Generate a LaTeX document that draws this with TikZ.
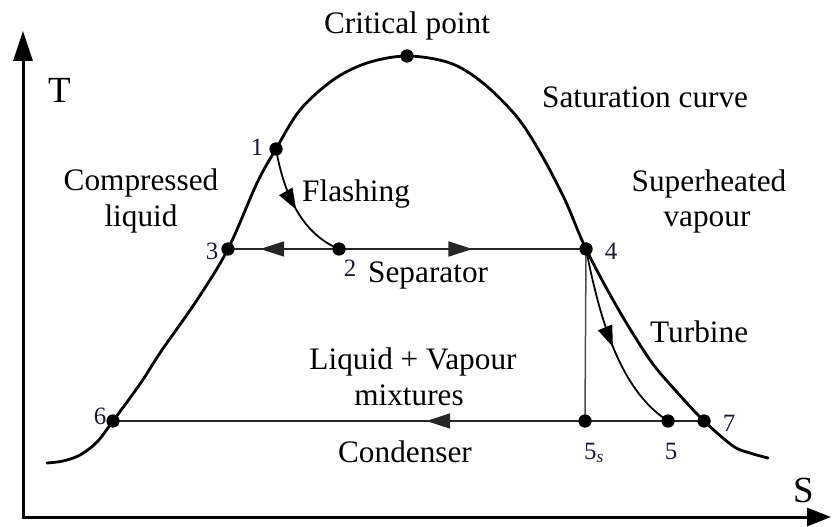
\documentclass[tikz,border=0pt]{standalone}
\usepackage{fontspec}
\setmainfont{Liberation Serif}
\usetikzlibrary{arrows.meta,decorations.markings}
\definecolor{labelc}{RGB}{25,25,55}
\begin{document}
\begin{tikzpicture}[x=1bp,y=-1bp,
  dot/.style={circle,fill=black,inner sep=0pt,minimum size=13bp},
  lbl/.style={font=\fontsize{25}{27}\selectfont,text=labelc,inner sep=0pt,anchor=base},
  txt/.style={font=\fontsize{31.4}{36}\selectfont,inner sep=0pt,anchor=base},
  axlbl/.style={font=\fontsize{37}{40}\selectfont,inner sep=0pt,anchor=base west},
  axisline/.style={line width=3bp,line join=miter},
  satline/.style={line width=2.8bp,line cap=round},
  hline/.style={line width=2bp,draw=black!85},
  vline/.style={line width=1.5bp,draw=black!70},
  flowline/.style={line width=1.8bp},
  midarrow/.style={postaction={decorate},decoration={markings,
     mark=at position #1 with {\arrow{Triangle[length=24bp,width=15bp]}}}},
  smallarrow/.style={postaction={decorate},decoration={markings,
     mark=at position #1 with {\arrow{Triangle[length=21bp,width=15bp]}}}},
]
\useasboundingbox (0,0) rectangle (832,527);

% axes
\coordinate (Ty) at (23,31);
\coordinate (O) at (23,517);
\coordinate (Sx) at (831,517);
\draw[axisline,{Triangle[length=30bp,width=19bp]}-{Triangle[length=24bp,width=18bp]}] (Ty) -- (O) -- (Sx);
\node[axlbl] (T) at (48,103) {T};
\node[axlbl] (S) at (793,502) {S};

% saturation curve
\draw[satline] plot[smooth,tension=0.55] coordinates {
 (47,463) (63,461) (80,455) (97,442) (113,421) (140,384) (162,350)
 (197,300) (228,249) (257,183) (276,149) (300,110) (333,80) (367,63)
 (407,56) (450,63) (483,83) (517,117) (541,154) (565,200) (586,249)
 (617,307) (650,360) (676,391) (704,421) (733,446) (750,453) (768,458)};

% state points
\node[dot] (cp) at (407,56) {};
\node[dot] (p1) at (276,149) {};
\node[dot] (p3) at (228,249) {};
\node[dot] (p2) at (339,249) {};
\node[dot] (p4) at (586,249) {};
\node[dot] (p6) at (113,421) {};
\node[dot] (p5s) at (585,421) {};
\node[dot] (p5) at (668,421) {};
\node[dot] (p7) at (704,421) {};

% process lines
\draw[hline,midarrow=0.71] (p2.center) -- (p3.center);
\draw[hline,midarrow=0.54] (p2.center) -- (p4.center);
\draw[hline,midarrow=0.47] (p7.center) -- (p6.center);
\draw[vline] (p4.center) -- (p5s.center);
\draw[flowline,smallarrow=0.52] (p1.center) .. controls (285,200) and (305,235) .. (p2.center);
\draw[flowline,smallarrow=0.52] (p4.center) .. controls (600,320) and (620,390) .. (p5.center);

% redraw dots on top
\foreach \n in {cp,p1,p2,p3,p4,p5s,p5,p6,p7} \fill (\n) circle (6.5bp);

% point labels
\node[lbl] (l1) at (257,156) {1};
\node[lbl] (l3) at (212,260) {3};
\node[lbl] (l2) at (350,277) {2};
\node[lbl] (l4) at (611,260) {4};
\node[lbl] (l6) at (100,424) {6};
\node[lbl,anchor=base west] (l5s) at (584,459) {5\textsubscript{\textit{s}}};
\node[lbl] (l5) at (671,459) {5};
\node[lbl] (l7) at (729,431) {7};

% texts
\node[txt] (tcp) at (407,34) {Critical point};
\node[txt,anchor=base west] (tsat) at (542,108) {Saturation curve};
\node[txt] (tcomp) at (141,191) {Compressed};
\node[txt] (tliq) at (141,227) {liquid};
\node[txt] (tsup) at (709,192) {Superheated};
\node[txt] (tvap) at (707,227) {vapour};
\node[txt,anchor=base west] (tfl) at (302,202) {Flashing};
\node[txt,anchor=base west] (tsep) at (368,283) {Separator};
\node[txt,anchor=base west] (ttur) at (650,342) {Turbine};
\node[txt] (tlv) at (413,369) {Liquid + Vapour};
\node[txt] (tmix) at (409,405) {mixtures};
\node[txt] (tcon) at (405,462) {Condenser};
\end{tikzpicture}
\end{document}
